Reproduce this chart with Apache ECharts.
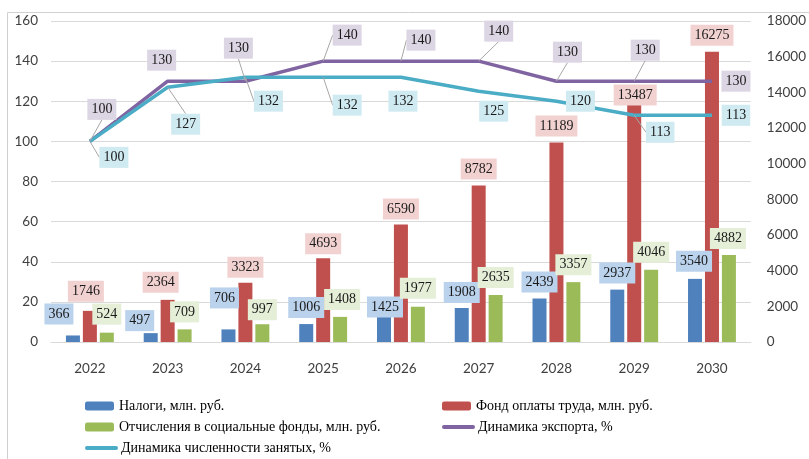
<!DOCTYPE html>
<html>
<head>
<meta charset="utf-8">
<script src="https://cdn.jsdelivr.net/npm/echarts@6/dist/echarts.min.js"></script>
<style>
  html, body { margin: 0; padding: 0; background: #fff; }
  #chart { width: 809px; height: 459px; }
</style>
</head>
<body>
<div id="chart"></div>
<script>
const years = ["2022", "2023", "2024", "2025", "2026", "2027", "2028", "2029", "2030"];
const taxes = [366, 497, 706, 1006, 1425, 1908, 2439, 2937, 3540];
const payroll = [1746, 2364, 3323, 4693, 6590, 8782, 11189, 13487, 16275];
const socialFunds = [524, 709, 997, 1408, 1977, 2635, 3357, 4046, 4882];
const exportDyn = [100, 130, 130, 140, 140, 140, 130, 130, 130];
const employDyn = [100, 127, 132, 132, 132, 125, 120, 113, 113];

// label placement (px offsets), mimicking the hand-moved Excel labels
const taxesOff = [[-14, -11], [-11, -2], [-4, -21], [0, -6], [1, 1], [0, -5], [0, -6], [0, -6], [-1, -7]];
const payrollOff = [[-4, -9], [-7, -7], [0, -5], [0, -4], [0, -5], [0, -6], [0, -6], [1, 4], [0, -6]];
const socialOff = [[0, -8], [0, -7], [0, -4], [2, -7], [0, -8], [0, -7], [0, -7], [0, -7], [-1, -6]];
const exportOff = [[12, -32], [-6, -21], [-7, -33], [24, -26], [20, -21], [20, -30], [11, -29], [11, -31], [24, 0]];
const employOff = [[24, 16], [18, 37], [23, 24], [24, 28], [2, 24], [15, 20], [24, 0], [26, 17], [24, 0]];

const chart = echarts.init(document.getElementById("chart"));

const labelFont = { fontFamily: "Liberation Serif", fontSize: 14, color: "#1a1a1a", padding: [3, 4], lineHeight: 15 };
const axisFont = { fontFamily: "Lato", fontSize: 13.5, color: "#404040" };
const legendText = { fontFamily: "Liberation Serif", fontSize: 14, color: "#000" };

function barSeries(name, values, offs, color, bg) {
  return {
    name,
    type: "bar",
    yAxisIndex: 1,
    barWidth: 14,
    barGap: "21%",
    itemStyle: { color },
    data: values.map((v, i) => ({ value: v, label: { offset: offs[i] } })),
    label: { show: true, position: "top", distance: 0, backgroundColor: bg, ...labelFont },
  };
}

function lineSeries(name, values, offs, color, bg) {
  return {
    name,
    type: "line",
    yAxisIndex: 0,
    symbol: "circle",
    symbolSize: 0.01,
    lineStyle: { color, width: 3.5 },
    itemStyle: { color },
    z: 5,
    // leader line only for labels moved far from their point
    data: values.map((v, i) => ({
      value: v,
      labelLine: { show: Math.hypot(offs[i][0], offs[i][1]) > 28 },
    })),
    label: { show: true, position: "top", distance: 0, backgroundColor: bg, ...labelFont },
    labelLayout: (p) => ({ dx: offs[p.dataIndex][0], dy: offs[p.dataIndex][1] + 10.5 }),
    labelLine: { show: true, lineStyle: { color: "#a6a6a6", width: 1 } },
  };
}

function legendItem(name, left, top, isLine) {
  const item = isLine
    ? { name, itemStyle: { opacity: 0 }, lineStyle: { width: 4, cap: "round" } }
    : { name };
  return {
    left,
    top,
    itemWidth: 29,
    itemHeight: 9,
    data: [item],
    textStyle: legendText,
  };
}

chart.setOption({
  animation: false,
  graphic: [
    {
      type: "rect",
      z: -10,
      shape: { x: 7.5, y: 12.5, width: 900, height: 600 },
      style: { fill: "none", stroke: "#d0d0d0", lineWidth: 1 },
    },
  ],
  grid: { left: 51, right: 56, top: 21, bottom: 117 },
  legend: [
    legendItem("Налоги, млн. руб.", 80, 394, false),
    legendItem("Отчисления в социальные фонды, млн. руб.", 80, 415, false),
    legendItem("Динамика численности занятых, %", 80, 436, true),
    legendItem("Фонд оплаты труда, млн. руб.", 437, 394, false),
    legendItem("Динамика экспорта, %", 437, 415, true),
  ],
  xAxis: {
    type: "category",
    data: years,
    axisLine: { lineStyle: { color: "#d9d9d9" } },
    axisTick: { show: false },
    axisLabel: { ...axisFont, margin: 20 },
  },
  yAxis: [
    {
      type: "value",
      min: 0,
      max: 160,
      interval: 20,
      axisLabel: { ...axisFont, margin: 13 },
      splitLine: { lineStyle: { color: "#d9d9d9" } },
    },
    {
      type: "value",
      min: 0,
      max: 18000,
      interval: 2000,
      axisLabel: { ...axisFont, margin: 16, formatter: (v) => String(v) },
      splitLine: { show: false },
    },
  ],
  series: [
    barSeries("Налоги, млн. руб.", taxes, taxesOff, "#4F81BD", "#BAD2EC"),
    barSeries("Фонд оплаты труда, млн. руб.", payroll, payrollOff, "#C0504D", "#F2D2D1"),
    barSeries("Отчисления в социальные фонды, млн. руб.", socialFunds, socialOff, "#9BBB59", "#E5EED7"),
    lineSeries("Динамика экспорта, %", exportDyn, exportOff, "#8064A2", "#DCD5E4"),
    lineSeries("Динамика численности занятых, %", employDyn, employOff, "#4BACC6", "#CFEAF1"),
  ],
});
</script>
</body>
</html>
